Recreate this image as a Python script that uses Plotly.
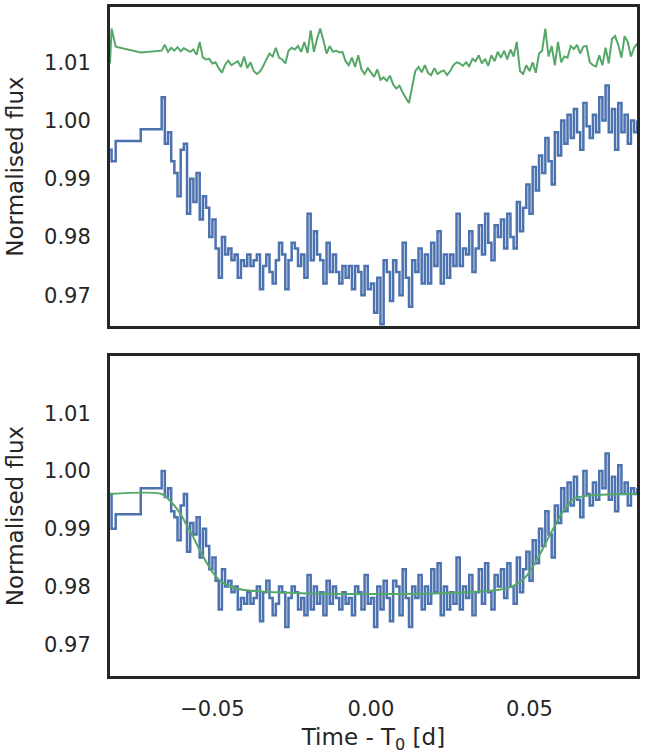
import numpy as np
import plotly.graph_objects as go

early_t = [-0.0823, -0.0818, -0.0805, -0.0726]
grid_t = list(np.round(np.arange(-0.066, 0.0845, 0.001), 4))
time = early_t + grid_t

flux_det = [0.996, 0.990, 0.9925, 0.997,
 1.000, 0.9955, 0.997, 0.993, 0.992, 0.988, 0.994, 0.996, 0.986, 0.991,
 0.989, 0.992, 0.985, 0.990, 0.987, 0.983, 0.985, 0.981, 0.976, 0.983,
 0.980, 0.981, 0.979, 0.980, 0.976, 0.978, 0.977, 0.979, 0.977, 0.978,
 0.980, 0.974, 0.979, 0.981, 0.978, 0.975, 0.977, 0.980, 0.979, 0.973,
 0.978, 0.980, 0.979, 0.976, 0.978, 0.975, 0.982, 0.976, 0.980, 0.977,
 0.979, 0.975, 0.981, 0.977, 0.980, 0.978, 0.976, 0.979, 0.977, 0.978,
 0.975, 0.980, 0.979, 0.976, 0.982, 0.977, 0.978, 0.973, 0.980, 0.976,
 0.981, 0.978, 0.974, 0.981, 0.980, 0.975, 0.983, 0.978, 0.973, 0.980,
 0.978, 0.982, 0.976, 0.980, 0.977, 0.983, 0.979, 0.984, 0.975, 0.980,
 0.976, 0.979, 0.977, 0.985, 0.976, 0.980, 0.978, 0.982, 0.975, 0.979,
 0.983, 0.977, 0.984, 0.979, 0.976, 0.982, 0.980, 0.983, 0.978, 0.984,
 0.980, 0.977, 0.985, 0.979, 0.983, 0.986, 0.981, 0.988, 0.984, 0.990,
 0.987, 0.993, 0.989, 0.985, 0.994, 0.991, 0.997, 0.993, 0.998, 0.994,
 0.999, 0.995, 0.992, 1.000, 0.996, 0.994, 0.998, 0.995, 1.000, 0.997,
 1.003, 0.995, 0.999, 0.993, 1.001, 0.996, 0.998, 0.994, 0.997, 0.996,
 0.997]

flux_raw = [0.995, 0.993, 0.9965, 0.9985,
 1.004, 0.996, 0.998, 0.993, 0.991, 0.987, 0.995, 0.996, 0.984, 0.990,
 0.986, 0.991, 0.983, 0.987, 0.985, 0.980, 0.983, 0.978, 0.973, 0.980,
 0.977, 0.978, 0.976, 0.977, 0.973, 0.976, 0.975, 0.977, 0.975, 0.976,
 0.977, 0.971, 0.975, 0.977, 0.974, 0.972, 0.976, 0.979, 0.977, 0.971,
 0.976, 0.979, 0.978, 0.975, 0.977, 0.973, 0.984, 0.976, 0.981, 0.977,
 0.976, 0.972, 0.979, 0.974, 0.977, 0.974, 0.972, 0.975, 0.973, 0.975,
 0.971, 0.975, 0.974, 0.970, 0.975, 0.971, 0.972, 0.967, 0.973, 0.965,
 0.976, 0.974, 0.969, 0.976, 0.974, 0.970, 0.979, 0.973, 0.968, 0.976,
 0.974, 0.978, 0.972, 0.977, 0.972, 0.979, 0.975, 0.981, 0.972, 0.977,
 0.973, 0.977, 0.975, 0.984, 0.975, 0.978, 0.977, 0.981, 0.974, 0.978,
 0.982, 0.977, 0.984, 0.979, 0.976, 0.982, 0.980, 0.983, 0.978, 0.984,
 0.980, 0.978, 0.986, 0.981, 0.985, 0.989, 0.984, 0.992, 0.988, 0.994,
 0.991, 0.997, 0.993, 0.989, 0.998, 0.994, 1.000, 0.996, 1.001, 0.997,
 1.002, 0.998, 0.995, 1.003, 0.999, 0.997, 1.001, 0.998, 1.004, 1.000,
 1.006, 0.998, 1.002, 0.995, 1.003, 0.998, 1.001, 0.996, 1.000, 0.998,
 1.000]

comp_flux = [1.0098, 1.0158, 1.0127, 1.0117,
 1.0120, 1.0130, 1.0118, 1.0125, 1.0120, 1.0126, 1.0119, 1.0124, 1.0121, 1.0118,
 1.0122, 1.0113, 1.0135, 1.0108, 1.0105, 1.0106, 1.0098, 1.0100, 1.0090, 1.0082,
 1.0096, 1.0103, 1.0095, 1.0098, 1.0102, 1.0092, 1.0110, 1.0090, 1.0100, 1.0085,
 1.0080, 1.0084, 1.0093, 1.0105, 1.0115, 1.0110, 1.0125, 1.0108, 1.0105, 1.0098,
 1.0120, 1.0125, 1.0122, 1.0128, 1.0118, 1.0135, 1.0116, 1.0155, 1.0118, 1.0140,
 1.0158, 1.0138, 1.0115, 1.0128, 1.0118, 1.0120, 1.0117, 1.0118, 1.0102, 1.0095,
 1.0108, 1.0092, 1.0112, 1.0088, 1.0080, 1.0090, 1.0082, 1.0075, 1.0088, 1.0070,
 1.0074, 1.0068, 1.0077, 1.0062, 1.0055, 1.0060, 1.0048, 1.0038, 1.0030, 1.0058,
 1.0085, 1.0092, 1.0083, 1.0095, 1.0082, 1.0078, 1.0090, 1.0080, 1.0084, 1.0086,
 1.0078, 1.0085, 1.0095, 1.0100, 1.0098, 1.0094, 1.0100, 1.0093, 1.0106, 1.0102,
 1.0112, 1.0098, 1.0106, 1.0094, 1.0112, 1.0102, 1.0118, 1.0108, 1.0120, 1.0105,
 1.0122, 1.0110, 1.0135, 1.0085, 1.0080, 1.0095, 1.0085, 1.0100, 1.0082, 1.0115,
 1.0120, 1.0158, 1.0110, 1.0128, 1.0095, 1.0135, 1.0100, 1.0110, 1.0108, 1.0128,
 1.0123, 1.0130, 1.0115, 1.0127, 1.0128, 1.0100, 1.0095, 1.0093, 1.0112, 1.0095,
 1.0125, 1.0098, 1.0140, 1.0145, 1.0130, 1.0108, 1.0145, 1.0135, 1.0110, 1.0125,
 1.0132]

model_t = [-0.0823, -0.066, -0.064, -0.062, -0.060, -0.058, -0.056, -0.054, -0.052, -0.050,
           -0.048, -0.046, -0.044, -0.040, -0.030, -0.020, -0.010, 0.0, 0.010, 0.020,
           0.030, 0.040, 0.044, 0.046, 0.048, 0.050, 0.052, 0.054, 0.056, 0.058,
           0.060, 0.062, 0.064, 0.0839]
model_flux = [0.996, 0.996, 0.9952, 0.9940, 0.9925, 0.9905, 0.9885, 0.9863, 0.9843, 0.9825,
              0.9812, 0.9804, 0.9799, 0.9794, 0.9790, 0.9788, 0.9787, 0.9787, 0.9787, 0.9788,
              0.9790, 0.9794, 0.9799, 0.9804, 0.9812, 0.9825, 0.9843, 0.9863, 0.9885, 0.9905,
              0.9925, 0.9940, 0.9952, 0.996]

BLUE = "#4c72b0"
GREEN = "#55a868"

fig = go.Figure()
fig.add_trace(go.Scatter(x=time, y=comp_flux, mode="lines", line=dict(color=GREEN, width=2),
                         xaxis="x", yaxis="y"))
fig.add_trace(go.Scatter(x=time, y=flux_raw, mode="lines", line=dict(color=BLUE, width=2.5, shape="hv"),
                         xaxis="x", yaxis="y"))
fig.add_trace(go.Scatter(x=time, y=flux_det, mode="lines", line=dict(color=BLUE, width=2.5, shape="hv"),
                         xaxis="x2", yaxis="y2"))
fig.add_trace(go.Scatter(x=model_t, y=model_flux, mode="lines", line=dict(color=GREEN, width=2, shape="spline"),
                         xaxis="x2", yaxis="y2"))

axcommon = dict(showgrid=False, zeroline=False, showline=True, mirror=True, linecolor="#262626",
                linewidth=3, ticks="", ticklabelstandoff=12, tickfont=dict(size=21, color="#262626"))
xr = [-0.0823, 0.0839]
ttl = dict(text="Normalised flux", font=dict(size=23), standoff=14)
fig.update_layout(
    width=647, height=754, paper_bgcolor="white", plot_bgcolor="white", showlegend=False,
    margin=dict(l=0, r=0, t=0, b=0),
    font=dict(family="DejaVu Sans", color="#262626"),
    xaxis=dict(domain=[0.170, 0.9845], range=xr, showticklabels=False, anchor="y", **axcommon),
    yaxis=dict(domain=[0.5676, 0.9907], range=[0.9647, 1.0195], dtick=0.01, tickformat=".2f",
               title=ttl, anchor="x", **axcommon),
    xaxis2=dict(domain=[0.170, 0.9845], range=xr, tickvals=[-0.05, 0.0, 0.05],
                ticktext=["−0.05", "0.00", "0.05"],
                title=dict(text="Time - T<sub>0</sub> [d]", font=dict(size=23), standoff=10),
                anchor="y2", **axcommon),
    yaxis2=dict(domain=[0.1034, 0.5279], range=[0.9645, 1.0199], dtick=0.01, tickformat=".2f",
                title=ttl, anchor="x2", **axcommon),
)
fig.write_html("out.html", post_script="document.body.style.margin='0';",
               config={"displayModeBar": False})
